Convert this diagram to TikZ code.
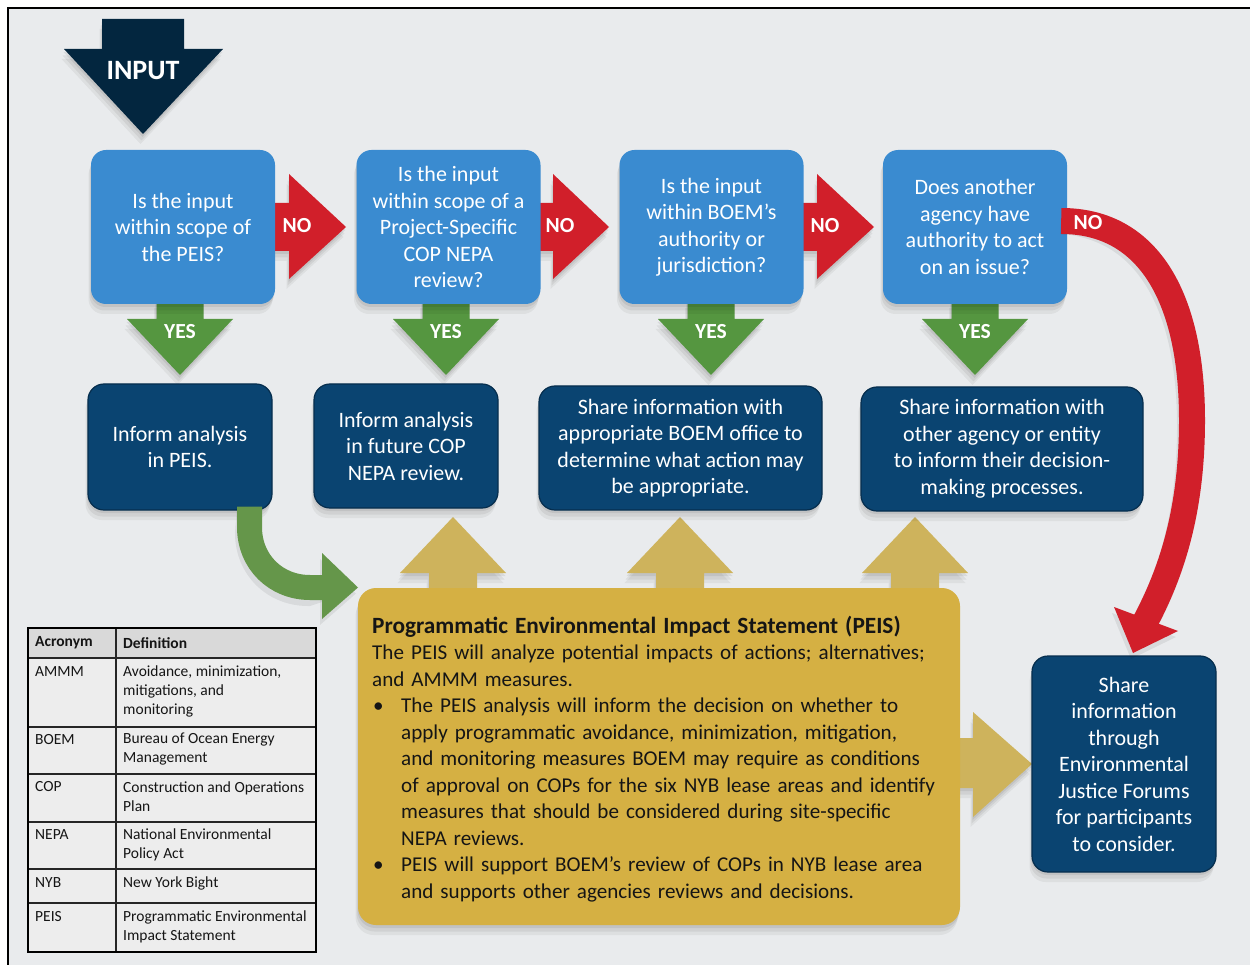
\documentclass[tikz,border=0pt]{standalone}
\usepackage{fontspec}
\setmainfont{Carlito}
\usetikzlibrary{shadows,calc}
\definecolor{bgray}{HTML}{E9EBED}
\definecolor{navy}{HTML}{03263F}
\definecolor{qblue}{HTML}{3A8BD0}
\definecolor{rblue}{HTML}{0A4471}
\definecolor{rborder}{HTML}{062E4E}
\definecolor{nored}{HTML}{D11F2A}
\definecolor{yesgreen}{HTML}{559640}
\definecolor{curvegreen}{HTML}{65964A}
\definecolor{goldbox}{HTML}{D5B043}
\definecolor{goldarrow}{HTML}{CEB35C}
\definecolor{headgray}{HTML}{D9D9D9}
\definecolor{rowgray}{HTML}{EDEDED}
\definecolor{textdark}{HTML}{151515}
\tikzset{
  sh/.style={general shadow={fill=black,opacity=0.05,shadow xshift=-2.5pt,shadow yshift=-10pt},
             general shadow={fill=black,opacity=0.06,shadow xshift=-1.5pt,shadow yshift=-6.5pt},
             general shadow={fill=black,opacity=0.07,shadow xshift=-0.5pt,shadow yshift=-3pt}},
  lineshadow/.style={draw=black,opacity=0.07,xshift=-2pt,yshift=-6pt},
  boxtext/.style={text=white,align=center,font=\fontsize{22}{26.5}\selectfont,inner sep=0pt},
  qbox/.style={boxtext,fill=qblue,rounded corners=15pt,minimum width=184pt,minimum height=154pt,sh},
  rbox/.style={boxtext,fill=rblue,draw=rborder,line width=1.2pt,rounded corners=16pt,sh},
  lab/.style={text=white,font=\fontsize{21.5}{24}\selectfont\bfseries,inner sep=0pt},
  tabtext/.style={anchor=west,align=left,inner sep=0pt,text=textdark,font=\fontsize{15.5}{19}\selectfont},
  tabrule/.style={line width=1.4pt,draw=black!85}
}
\begin{document}
\begin{tikzpicture}[x=1pt,y=-1pt]
\useasboundingbox (0,0) rectangle (1250,965);
\fill[white] (0,0) rectangle (1250,965);
\fill[bgray] (8,8) rectangle (1250,965);
\draw[line width=2.5pt] (8,966) -- (8,8) -- (1251,8);

% INPUT arrow
\fill[navy,sh] (102,19) -- (184,19) -- (184,49) -- (223,49) -- (143,134) -- (64,49) -- (102,49) -- cycle;
\node[text=white,font=\fontsize{28}{30}\selectfont\bfseries,inner sep=0pt] (input) at (143,71) {INPUT};

% red NO arrows
\foreach \s/\h/\t in {270/289/346, 536/553/609, 799/817/874}{
  \fill[nored,sh] (\s,203) -- (\h,203) -- (\h,174) -- (\t,227) -- (\h,279) -- (\h,251) -- (\s,251) -- cycle;
}
% green YES arrows
\foreach \c in {180,446,711,975}{
  \fill[yesgreen,sh] ({\c-23.5},298) -- ({\c+23.5},298) -- ({\c+23.5},319) -- ({\c+53},319) -- (\c,375) -- ({\c-53},319) -- ({\c-23.5},319) -- cycle;
}
% gold up arrows
\foreach \c in {453,680,915}{
  \fill[goldarrow,sh] ({\c-24},595) -- ({\c-24},573) -- ({\c-53},573) -- (\c,517) -- ({\c+53},573) -- ({\c+24},573) -- ({\c+24},595) -- cycle;
}
% gold right arrow
\fill[goldarrow,sh] (950,738) -- (973,738) -- (973,712) -- (1032,764) -- (973,817) -- (973,788) -- (950,788) -- cycle;

% question boxes
\node[qbox] (q1) at (183,227) {Is the input\\within scope of\\the PEIS?};
\node[qbox] (q2) at (448.5,227) {Is the input\\within scope of a\\Project-Specific\\COP NEPA\\review?};
\node[qbox] (q3) at (711.5,227) {Is the input\\within BOEM’s\\authority or\\jurisdiction?};
\node[qbox] (q4) at (975,227) {Does another\\agency have\\authority to act\\on an issue?};

% result boxes
\node[rbox,minimum width=184pt,minimum height=126pt] (ra) at (180,447) {Inform analysis\\in PEIS.};
\node[rbox,minimum width=184pt,minimum height=124pt] (rb) at (406,446) {Inform analysis\\in future COP\\NEPA review.};
\node[rbox,minimum width=283pt,minimum height=124pt] (rc) at (680.5,448) {Share information with\\appropriate BOEM office to\\determine what action may\\be appropriate.};
\node[rbox,minimum width=282pt,minimum height=124pt] (rd) at (1002,449) {Share information with\\other agency or entity\\to inform their decision-\\making processes.};
\node[rbox,minimum width=184pt,minimum height=216pt] (re) at (1124,764) {Share\\information\\through\\Environmental\\Justice Forums\\for participants\\to consider.};

% labels on arrows
\foreach \x/\n in {297/no1, 560/no2, 825/no3}{
  \node[lab] (\n) at (\x,226) {NO};
}
\foreach \x/\n in {180/yes1, 446/yes2, 711/yes3, 975/yes4}{
  \node[lab] (\n) at (\x,332) {YES};
}

% green curved arrow from ra to peis
\coordinate (gstart) at ($(ra.south)+(69.5,-4)$);
\coordinate (gend) at (326,587.5);
\draw[lineshadow,line width=25pt] (gstart) -- (249.5,527) .. controls (249.5,562) and (276,587.5) .. (310,587.5) -- (gend);
\fill[black,opacity=0.07] (320,559) -- (356,593.5) -- (320,625) -- cycle;
\draw[curvegreen,line width=25pt] (gstart) -- (249.5,527) .. controls (249.5,562) and (276,587.5) .. (310,587.5) -- (gend);
\fill[curvegreen] (322,553) -- (358,587.5) -- (322,619) -- cycle;

% red curved arrow from q4 to re
\coordinate (rstart) at ($(q4.east)+(-6,-6)$);
\coordinate (rend) at (1144,624);
\draw[lineshadow,line width=26pt] (rstart) .. controls (1150,221) and (1192,300) .. (1192,420) .. controls (1192,510) and (1172,572) .. (rend);
\fill[black,opacity=0.07] (1112,613) -- (1131,659) -- (1176,637) -- cycle;
\draw[nored,line width=26pt] (rstart) .. controls (1150,221) and (1192,300) .. (1192,420) .. controls (1192,510) and (1172,572) .. (rend);
\fill[nored] (1114,607) -- (1133,653) -- (1178,631) -- cycle;
\node[lab] (no4) at (1088,223) {NO};

% PEIS box
\node[fill=goldbox,rounded corners=18pt,minimum width=602pt,minimum height=337pt,inner sep=0pt,sh] (peis) at (659,756.5) {};
\node[anchor=north west,inner sep=0pt,align=left,text width=590pt,text=textdark,font=\fontsize{21.1}{26.5}\selectfont] (peistext) at (372,616)
{{\fontsize{23.3}{26.5}\selectfont\bfseries Programmatic Environmental Impact Statement (PEIS)}\\
The PEIS will analyze potential impacts of actions; alternatives;\\
and AMMM measures.\\
\makebox[29pt][l]{\hspace{1pt}•}The PEIS analysis will inform the decision on whether to\\
\hspace*{29pt}apply programmatic avoidance, minimization, mitigation,\\
\hspace*{29pt}and monitoring measures BOEM may require as conditions\\
\hspace*{29pt}of approval on COPs for the six NYB lease areas and identify\\
\hspace*{29pt}measures that should be considered during site-specific\\
\hspace*{29pt}NEPA reviews.\\
\makebox[29pt][l]{\hspace{1pt}•}PEIS will support BOEM’s review of COPs in NYB lease area\\
\hspace*{29pt}and supports other agencies reviews and decisions.};

% table
\fill[rowgray] (28,658) rectangle (316,952);
\fill[headgray] (28,628) rectangle (316,658);
\foreach \yy in {658,727,774,822,869,903}{
  \draw[tabrule] (28,\yy) -- (316,\yy);
}
\draw[tabrule] (116,628) -- (116,952);
\draw[line width=2pt] (28,628) rectangle (316,952);

\node[tabtext,font=\fontsize{15.5}{19}\selectfont\bfseries] (h1) at (35,643) {Acronym};
\node[tabtext,font=\fontsize{15.5}{19}\selectfont\bfseries] (h2) at (123,643) {Definition};
\node[tabtext] (a1) at (35,672) {AMMM};
\node[tabtext] (d1) at (123,691) {Avoidance, minimization,\\mitigations, and\\monitoring};
\node[tabtext] (a2) at (35,740) {BOEM};
\node[tabtext] (d2) at (123,749.5) {Bureau of Ocean Energy\\Management};
\node[tabtext] (a3) at (35,787) {COP};
\node[tabtext] (d3) at (123,796.5) {Construction and Operations\\Plan};
\node[tabtext] (a4) at (35,835) {NEPA};
\node[tabtext] (d4) at (123,844.5) {National Environmental\\Policy Act};
\node[tabtext] (a5) at (35,883) {NYB};
\node[tabtext] (d5) at (123,883) {New York Bight};
\node[tabtext] (a6) at (35,917) {PEIS};
\node[tabtext] (d6) at (123,926.5) {Programmatic Environmental\\Impact Statement};
\end{tikzpicture}
\end{document}
